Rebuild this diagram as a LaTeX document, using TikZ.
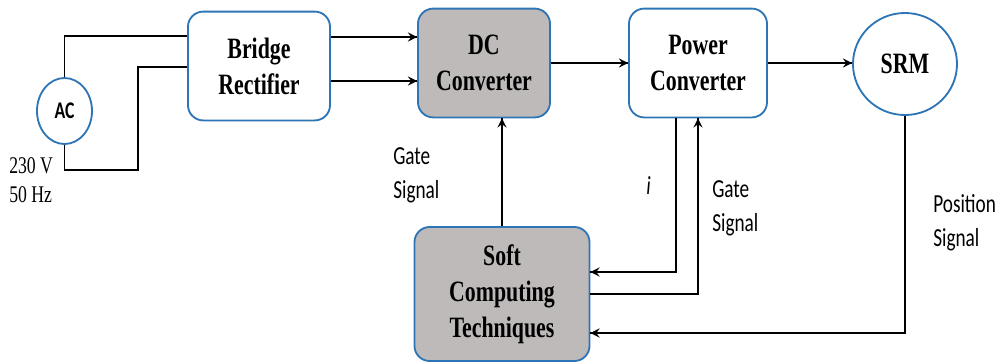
\documentclass[tikz,border=0pt]{standalone}
\usepackage{fontspec}
\setmainfont{Liberation Serif}
\newfontfamily\boxfont{Liberation Serif}[FakeStretch=0.74]
\newfontfamily\lblfont{Carlito}[FakeStretch=0.74]
\usetikzlibrary{arrows,calc,decorations.markings,positioning,shapes}
\definecolor{bdrblu}{RGB}{46,117,182}
\definecolor{boxgry}{RGB}{190,186,186}
\tikzset{
    arrowfwd/.style={decoration={markings,mark=at position 1 with {\arrow[scale=1.3,>=stealth]{>}}},postaction={decorate}},
    wireblk/.style={draw=black,line width=1.2pt},
    recwht/.style={rounded corners=.38cm,draw,minimum height=2.72cm,align=center,text=black,fill=white,draw=bdrblu,line width=1.3pt,font=\boxfont\bfseries\fontsize{21}{25.5}\selectfont},
    recgry/.style={recwht,fill=boxgry},
    cirblu/.style={ellipse,draw=bdrblu,fill=white,line width=1.3pt,inner sep=0pt},
    lbltxt/.style={align=left,inner sep=0pt,anchor=west,font=\lblfont\fontsize{18.5}{24}\selectfont}
}
\begin{document}
\begin{tikzpicture}[x=0.025cm,y=-0.025cm]
        \useasboundingbox (0,0) rectangle (1002,363);

        % Supply side
        \node[cirblu,minimum width=1.375cm,minimum height=1.65cm,font=\lblfont\bfseries\fontsize{17}{18}\selectfont] (ac) at (64.5,111) {AC};
        \node[align=left,inner sep=0pt,anchor=west,font=\boxfont\fontsize{17}{21}\selectfont] (acrating) at (9,180) {230 V\\50 Hz};
        \node[recwht,minimum width=3.55cm] (bridge) at (259,66) {Bridge\\Rectifier};
        \coordinate (acbend) at (138,170);
        \draw[wireblk] (ac.north) |- ($(bridge.west)+(0,-30)$);
        \draw[wireblk] (ac.south) |- (acbend) |- ($(bridge.west)+(0,1)$);

        % Converter chain
        \node[recgry,minimum width=3.3cm] (dc) at (484,63) {DC\\Converter};
        \node[recwht,minimum width=3.45cm] (power) at (698,63) {Power\\Converter};
        \node[cirblu,minimum width=2.6cm,minimum height=2.55cm,font=\boxfont\bfseries\fontsize{21}{25}\selectfont] (srm) at (905,64) {SRM};
        \coordinate (brtop) at ($(bridge.east)+(0,-29)$);
        \coordinate (brbot) at ($(bridge.east)+(0,15)$);
        \draw[wireblk,arrowfwd] (brtop) -- (brtop -| dc.west);
        \draw[wireblk,arrowfwd] (brbot) -- (brbot -| dc.west);
        \draw[wireblk,arrowfwd] (dc.east) -- (dc.east -| power.west);
        \draw[wireblk,arrowfwd] (power.east) -- (power.east -| srm.west);

        % Controller and feedback
        \node[recgry,minimum width=4.375cm,minimum height=3.35cm] (soft) at (502,294) {Soft\\Computing\\Techniques};
        \draw[wireblk,arrowfwd] (soft.north) -- (soft.north |- dc.south);
        \draw[wireblk,arrowfwd] ($(power.south)+(-22,0)$) |- ($(soft.east)+(0,-22)$);
        \draw[wireblk,arrowfwd] (soft.east) -| (power.south);
        \draw[wireblk,arrowfwd] (srm.south) |- ($(soft.east)+(0,39)$);

        \node[lbltxt] (gatedc) at (393,175) {Gate\\Signal};
        \node[lbltxt] (isense) at (646,186) {\itshape i};
        \node[lbltxt] (gatepc) at (712,208) {Gate\\Signal};
        \node[lbltxt] (possig) at (933,223) {Position\\Signal};
    \end{tikzpicture}
\end{document}
